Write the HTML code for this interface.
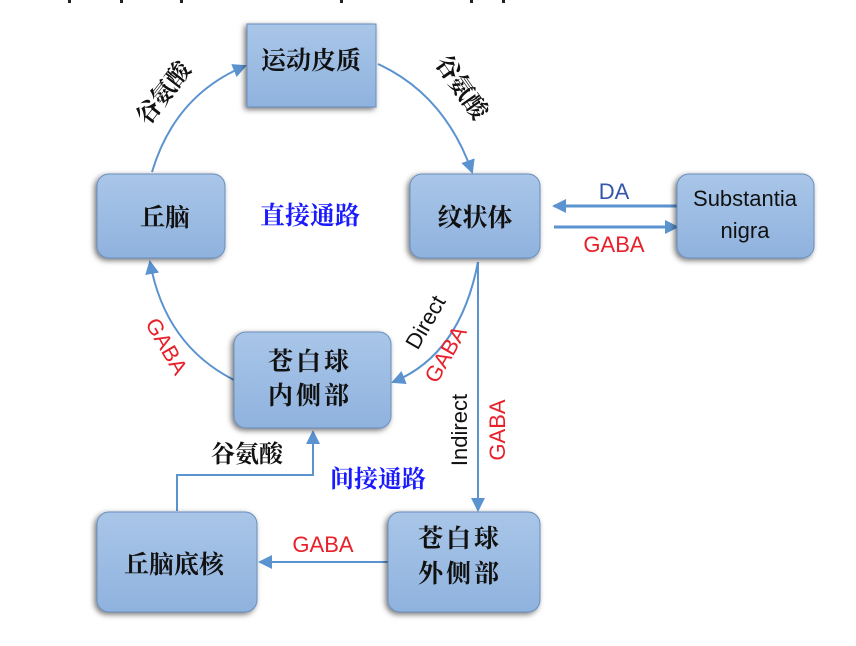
<!DOCTYPE html>
<html><head><meta charset="utf-8"><style>
body{margin:0;background:#fff;}
svg{display:block;}
.cn{font-family:"Liberation Serif","Noto Serif CJK SC",serif;font-weight:bold;fill:#111;}
.en{font-family:"Liberation Sans",sans-serif;}
</style></head><body>
<svg width="856" height="646" viewBox="0 0 856 646" xmlns="http://www.w3.org/2000/svg">
<defs>
<linearGradient id="g" x1="0" y1="0" x2="0" y2="1"><stop offset="0" stop-color="#a9c6e8"/><stop offset="1" stop-color="#8fb2de"/></linearGradient>
<filter id="s" x="-20%" y="-20%" width="140%" height="140%"><feDropShadow dx="-2" dy="2" stdDeviation="3" flood-color="#000" flood-opacity="0.55"/></filter>
<marker id="a" markerWidth="14" markerHeight="14" refX="12" refY="7" orient="auto" markerUnits="userSpaceOnUse"><path d="M0,0 L14,7 L0,14 z" fill="#5b93d0"/></marker>
</defs>
<g fill="#222"><rect x="68" y="0" width="3" height="3"/><rect x="120" y="0" width="3" height="3"/><rect x="180" y="0" width="3" height="3"/><rect x="340" y="0" width="3" height="3"/><rect x="470" y="0" width="3" height="3"/><rect x="502" y="0" width="3" height="3"/></g>
<g stroke="#5b93d0" stroke-width="2" fill="none">
<path d="M152,172 Q175,95 245,66" marker-end="url(#a)"/>
<path d="M378,64 Q445,95 472,172" marker-end="url(#a)"/>
<path d="M234,380 Q165,345 150,262" marker-end="url(#a)"/>
<path d="M478,262 Q460,355 393,382" marker-end="url(#a)"/>
<path d="M478,262 L478,510" marker-end="url(#a)"/>
<path d="M677,206 L554,206" stroke-width="3" marker-end="url(#a)"/>
<path d="M554,227 L677,227" stroke-width="3" marker-end="url(#a)"/>
<path d="M388,562 L260,562" marker-end="url(#a)"/>
<path d="M177,511 L177,475 L313,475 L313,432" marker-end="url(#a)"/>
</g>
<g filter="url(#s)" stroke="#6a8fbf" stroke-width="1" fill="url(#g)">
<rect x="247" y="24" width="129" height="83"/>
<rect x="97" y="174" width="128" height="84" rx="12"/>
<rect x="410" y="174" width="130" height="84" rx="12"/>
<rect x="677" y="174" width="137" height="84" rx="12"/>
<rect x="234" y="332" width="157" height="96" rx="12"/>
<rect x="97" y="512" width="160" height="100" rx="12"/>
<rect x="388" y="512" width="152" height="100" rx="12"/>
</g>
<g class="cn" font-size="25">
<text x="311" y="69" text-anchor="middle">运动皮质</text>
<text x="165" y="226" text-anchor="middle">丘脑</text>
<text x="475" y="226" text-anchor="middle">纹状体</text>
<text x="310" y="370" text-anchor="middle" letter-spacing="3">苍白球</text>
<text x="310" y="404" text-anchor="middle" letter-spacing="3">内侧部</text>
<text x="174" y="573" text-anchor="middle">丘脑底核</text>
<text x="460" y="547" text-anchor="middle" letter-spacing="3">苍白球</text>
<text x="460" y="582" text-anchor="middle" letter-spacing="3">外侧部</text>
<text x="247" y="462" text-anchor="middle" font-size="24">谷氨酸</text>
<text x="310" y="224" text-anchor="middle" style="fill:#1a1aff">直接通路</text>
<text x="378" y="487" text-anchor="middle" font-size="24" style="fill:#1a1aff">间接通路</text>
<text transform="translate(170,98) rotate(-52)" text-anchor="middle" font-size="24">谷氨酸</text>
<text transform="translate(455,92) rotate(55)" text-anchor="middle" font-size="24">谷氨酸</text>
</g>
<g class="en" font-size="22">
<text x="745" y="206" text-anchor="middle" fill="#111">Substantia</text>
<text x="745" y="238" text-anchor="middle" fill="#111">nigra</text>
<text x="614" y="199" text-anchor="middle" fill="#3355aa">DA</text>
<text x="614" y="252" text-anchor="middle" fill="#e8202a">GABA</text>
<text x="323" y="552" text-anchor="middle" fill="#e8202a">GABA</text>
<text transform="translate(160,350) rotate(60)" text-anchor="middle" fill="#e8202a">GABA</text>
<text transform="translate(432,326) rotate(-60)" text-anchor="middle" fill="#111">Direct</text>
<text transform="translate(452,358) rotate(-60)" text-anchor="middle" fill="#e8202a">GABA</text>
<text transform="translate(467,430) rotate(-90)" text-anchor="middle" fill="#111">Indirect</text>
<text transform="translate(505,430) rotate(-90)" text-anchor="middle" fill="#e8202a">GABA</text>
</g>
</svg>
</body></html>
